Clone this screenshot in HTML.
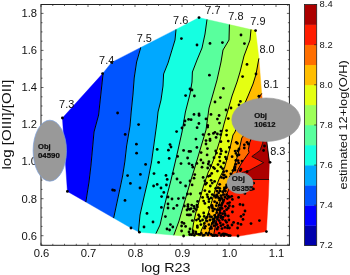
<!DOCTYPE html>
<html><head><meta charset="utf-8"><title>chart</title>
<style>html,body{margin:0;padding:0;background:#fff;}body{width:350px;height:275px;overflow:hidden;position:relative;font-family:"Liberation Sans",sans-serif;}svg{filter:blur(0.35px)}svg text{font-family:"Liberation Sans",sans-serif;fill:#111;}</style>
</head><body>
<svg width="350" height="275" viewBox="0 0 350 275" style="position:absolute;left:0;top:0">
<rect width="350" height="275" fill="#fff"/>
<path d="M86.00 201.00 L89.00 182.00 L91.00 165.00 L94.00 132.00 L98.60 115.00 L103.00 74.40 L103.16 72.90 L102.60 73.60 L62.40 118.00 L67.40 191.40 L85.84 202.01 L86.00 201.00Z" fill="#0000ff" stroke="#0000ff" stroke-width="0.4" stroke-linejoin="round"/>
<path d="M103.00 74.40 L98.60 115.00 L94.00 132.00 L91.00 165.00 L89.00 182.00 L86.00 201.00 L85.84 202.01 L113.65 218.02 L114.30 215.00 L120.50 186.00 L122.60 176.00 L124.80 162.00 L126.60 146.00 L130.00 126.00 L131.20 112.00 L133.00 94.00 L134.20 78.00 L136.60 62.00 L140.60 48.00 L140.76 47.46 L111.60 62.40 L103.16 72.90 L103.00 74.40Z" fill="#0054ff" stroke="#0054ff" stroke-width="0.4" stroke-linejoin="round"/>
<path d="M140.60 48.00 L136.60 62.00 L134.20 78.00 L133.00 94.00 L131.20 112.00 L130.00 126.00 L126.60 146.00 L124.80 162.00 L122.60 176.00 L120.50 186.00 L114.30 215.00 L113.65 218.02 L131.00 228.00 L138.43 231.72 L138.50 231.00 L140.00 215.00 L144.00 197.00 L148.00 180.00 L151.50 162.00 L154.00 144.00 L157.00 122.00 L158.00 112.00 L161.00 100.00 L163.00 86.00 L163.60 74.00 L168.00 63.00 L175.00 40.00 L176.00 29.60 L176.02 29.38 L140.76 47.46 L140.60 48.00Z" fill="#00a8ff" stroke="#00a8ff" stroke-width="0.4" stroke-linejoin="round"/>
<path d="M156.00 233.40 L160.00 225.00 L163.00 212.00 L166.60 197.00 L171.00 180.00 L175.00 163.00 L178.00 150.00 L182.00 132.00 L185.40 112.00 L190.00 94.00 L192.00 82.00 L192.40 72.00 L197.00 60.00 L202.00 48.00 L205.00 34.00 L207.00 19.44 L199.00 17.60 L176.02 29.38 L176.00 29.60 L175.00 40.00 L168.00 63.00 L163.60 74.00 L163.00 86.00 L161.00 100.00 L158.00 112.00 L157.00 122.00 L154.00 144.00 L151.50 162.00 L148.00 180.00 L144.00 197.00 L140.00 215.00 L138.50 231.00 L138.43 231.72 L139.40 232.20 L155.90 233.62 L156.00 233.40Z" fill="#15ffe1" stroke="#15ffe1" stroke-width="0.4" stroke-linejoin="round"/>
<path d="M205.00 34.00 L202.00 48.00 L197.00 60.00 L192.40 72.00 L192.00 82.00 L190.00 94.00 L185.40 112.00 L182.00 132.00 L178.00 150.00 L175.00 163.00 L171.00 180.00 L166.60 197.00 L163.00 212.00 L160.00 225.00 L156.00 233.40 L155.90 233.62 L173.80 235.16 L174.00 234.60 L179.00 221.00 L183.00 207.00 L186.00 197.00 L190.00 183.00 L195.00 167.00 L200.00 150.00 L206.00 130.00 L209.00 108.00 L213.00 94.00 L217.00 80.00 L221.00 62.00 L223.00 50.00 L229.00 40.00 L229.40 25.00 L229.41 24.58 L207.00 19.44 L205.00 34.00Z" fill="#59ff9d" stroke="#59ff9d" stroke-width="0.4" stroke-linejoin="round"/>
<path d="M229.40 25.00 L229.00 40.00 L223.00 50.00 L221.00 62.00 L217.00 80.00 L213.00 94.00 L209.00 108.00 L206.00 130.00 L200.00 150.00 L195.00 167.00 L190.00 183.00 L186.00 197.00 L183.00 207.00 L179.00 221.00 L174.00 234.60 L173.80 235.16 L183.60 236.00 L192.00 236.05 L192.00 236.00 L192.50 230.00 L193.60 222.90 L196.00 212.00 L199.80 199.00 L203.50 186.00 L208.30 172.00 L210.00 169.00 L215.00 156.00 L220.00 140.00 L224.00 124.00 L228.00 110.00 L232.00 96.00 L237.00 82.00 L240.00 72.00 L242.00 64.00 L244.00 56.00 L250.00 40.00 L251.00 29.60 L251.01 29.54 L229.41 24.58 L229.40 25.00Z" fill="#9dff59" stroke="#9dff59" stroke-width="0.4" stroke-linejoin="round"/>
<path d="M200.00 236.00 L201.40 230.00 L203.50 226.00 L208.00 214.00 L212.30 200.00 L216.00 187.00 L219.50 178.00 L224.30 168.60 L230.00 148.00 L233.00 135.00 L235.00 132.00 L245.00 103.00 L248.00 96.00 L253.00 84.00 L256.00 74.40 L258.90 58.40 L255.60 30.60 L251.01 29.54 L251.00 29.60 L250.00 40.00 L244.00 56.00 L242.00 64.00 L240.00 72.00 L237.00 82.00 L232.00 96.00 L228.00 110.00 L224.00 124.00 L220.00 140.00 L215.00 156.00 L210.00 169.00 L208.30 172.00 L203.50 186.00 L199.80 199.00 L196.00 212.00 L193.60 222.90 L192.50 230.00 L192.00 236.00 L192.00 236.05 L199.98 236.09 L200.00 236.00Z" fill="#e4ff12" stroke="#e4ff12" stroke-width="0.4" stroke-linejoin="round"/>
<path d="M256.00 74.40 L253.00 84.00 L248.00 96.00 L245.00 103.00 L235.00 132.00 L233.00 135.00 L230.00 148.00 L224.30 168.60 L219.50 178.00 L216.00 187.00 L212.30 200.00 L208.00 214.00 L203.50 226.00 L201.40 230.00 L200.00 236.00 L199.98 236.09 L207.97 236.13 L208.00 236.00 L209.80 229.00 L212.90 220.60 L216.30 212.60 L220.70 199.50 L226.00 186.00 L231.50 175.50 L234.50 165.00 L238.20 154.00 L241.80 138.00 L244.00 135.00 L252.00 115.00 L259.30 97.00 L261.69 93.46 L258.90 58.40 L256.00 74.40Z" fill="#ffbd00" stroke="#ffbd00" stroke-width="0.4" stroke-linejoin="round"/>
<path d="M259.30 97.00 L252.00 115.00 L244.00 135.00 L241.80 138.00 L238.20 154.00 L234.50 165.00 L231.50 175.50 L226.00 186.00 L220.70 199.50 L216.30 212.60 L212.90 220.60 L209.80 229.00 L208.00 236.00 L207.97 236.13 L213.47 236.16 L213.50 236.00 L214.80 229.00 L217.60 217.00 L220.90 209.00 L224.30 200.00 L228.50 190.00 L236.00 175.00 L238.20 169.20 L241.80 162.60 L249.00 152.50 L248.40 149.50 L249.80 142.30 L251.50 138.00 L258.00 128.00 L263.93 114.65 L261.80 94.80 L261.69 93.46 L259.30 97.00Z" fill="#ff6f00" stroke="#ff6f00" stroke-width="0.4" stroke-linejoin="round"/>
<path d="M251.50 138.00 L249.80 142.30 L248.40 149.50 L249.00 152.50 L241.80 162.60 L238.20 169.20 L236.00 175.00 L228.50 190.00 L224.30 200.00 L220.90 209.00 L217.60 217.00 L214.80 229.00 L213.50 236.00 L213.47 236.16 L238.00 236.30 L266.40 231.60 L268.50 195.00 L269.02 179.50 L243.00 179.50 L241.60 172.70 L249.10 170.50 L263.60 162.60 L251.80 156.50 L260.00 150.50 L262.70 143.20 L261.80 139.00 L266.55 139.00 L263.93 114.65 L258.00 128.00 L251.50 138.00Z" fill="#ff1d00" stroke="#ff1d00" stroke-width="0.4" stroke-linejoin="round"/>
<path d="M262.70 143.20 L260.00 150.50 L251.80 156.50 L263.60 162.60 L249.10 170.50 L241.60 172.70 L243.00 179.50 L269.02 179.50 L269.60 162.30 L266.90 142.30 L266.55 139.00 L261.80 139.00 L262.70 143.20Z" fill="#ac0000"/>
<path d="M103.16 72.90 L103.00 74.40 L98.60 115.00 L94.00 132.00 L91.00 165.00 L89.00 182.00 L86.00 201.00 L85.84 202.01" fill="none" stroke="#000" stroke-width="1" stroke-linejoin="round"/>
<path d="M140.76 47.46 L140.60 48.00 L136.60 62.00 L134.20 78.00 L133.00 94.00 L131.20 112.00 L130.00 126.00 L126.60 146.00 L124.80 162.00 L122.60 176.00 L120.50 186.00 L114.30 215.00 L113.65 218.02" fill="none" stroke="#000" stroke-width="1" stroke-linejoin="round"/>
<path d="M176.02 29.38 L176.00 29.60 L175.00 40.00 L168.00 63.00 L163.60 74.00 L163.00 86.00 L161.00 100.00 L158.00 112.00 L157.00 122.00 L154.00 144.00 L151.50 162.00 L148.00 180.00 L144.00 197.00 L140.00 215.00 L138.50 231.00 L138.43 231.72" fill="none" stroke="#000" stroke-width="1" stroke-linejoin="round"/>
<path d="M207.00 19.44 L205.00 34.00 L202.00 48.00 L197.00 60.00 L192.40 72.00 L192.00 82.00 L190.00 94.00 L185.40 112.00 L182.00 132.00 L178.00 150.00 L175.00 163.00 L171.00 180.00 L166.60 197.00 L163.00 212.00 L160.00 225.00 L156.00 233.40 L155.90 233.62" fill="none" stroke="#000" stroke-width="1" stroke-linejoin="round"/>
<path d="M229.41 24.58 L229.40 25.00 L229.00 40.00 L223.00 50.00 L221.00 62.00 L217.00 80.00 L213.00 94.00 L209.00 108.00 L206.00 130.00 L200.00 150.00 L195.00 167.00 L190.00 183.00 L186.00 197.00 L183.00 207.00 L179.00 221.00 L174.00 234.60 L173.80 235.16" fill="none" stroke="#000" stroke-width="1" stroke-linejoin="round"/>
<path d="M251.01 29.54 L251.00 29.60 L250.00 40.00 L244.00 56.00 L242.00 64.00 L240.00 72.00 L237.00 82.00 L232.00 96.00 L228.00 110.00 L224.00 124.00 L220.00 140.00 L215.00 156.00 L210.00 169.00 L208.30 172.00 L203.50 186.00 L199.80 199.00 L196.00 212.00 L193.60 222.90 L192.50 230.00 L192.00 236.00 L192.00 236.05" fill="none" stroke="#000" stroke-width="1" stroke-linejoin="round"/>
<path d="M258.90 58.40 L256.00 74.40 L253.00 84.00 L248.00 96.00 L245.00 103.00 L235.00 132.00 L233.00 135.00 L230.00 148.00 L224.30 168.60 L219.50 178.00 L216.00 187.00 L212.30 200.00 L208.00 214.00 L203.50 226.00 L201.40 230.00 L200.00 236.00 L199.98 236.09" fill="none" stroke="#000" stroke-width="1" stroke-linejoin="round"/>
<path d="M261.69 93.46 L259.30 97.00 L252.00 115.00 L244.00 135.00 L241.80 138.00 L238.20 154.00 L234.50 165.00 L231.50 175.50 L226.00 186.00 L220.70 199.50 L216.30 212.60 L212.90 220.60 L209.80 229.00 L208.00 236.00 L207.97 236.13" fill="none" stroke="#000" stroke-width="1" stroke-linejoin="round"/>
<path d="M263.93 114.65 L258.00 128.00 L251.50 138.00 L249.80 142.30 L248.40 149.50 L249.00 152.50 L241.80 162.60 L238.20 169.20 L236.00 175.00 L228.50 190.00 L224.30 200.00 L220.90 209.00 L217.60 217.00 L214.80 229.00 L213.50 236.00 L213.47 236.16" fill="none" stroke="#000" stroke-width="1" stroke-linejoin="round"/>
<path d="M266.5 139L266.9 142.3L269.4 162.3" fill="none" stroke="#000" stroke-width="0.9"/>
<path d="M269.02 179.50 L243.00 179.50" fill="none" stroke="#000" stroke-width="0.8" stroke-linejoin="round"/>
<path d="M241.60 172.70 L249.10 170.50 L263.60 162.60 L251.80 156.50 L260.00 150.50 L262.70 143.20 L263.20 139.00" fill="none" stroke="#000" stroke-width="0.8" stroke-linejoin="round"/>
<circle cx="102.6" cy="73.6" r="1.4"/>
<circle cx="111.6" cy="62.4" r="1.4"/>
<circle cx="117.6" cy="113.0" r="1.4"/>
<circle cx="62.4" cy="118.0" r="1.4"/>
<circle cx="67.4" cy="191.4" r="1.4"/>
<circle cx="112.6" cy="190.0" r="1.4"/>
<circle cx="114.4" cy="190.4" r="1.4"/>
<circle cx="181.4" cy="38.6" r="1.4"/>
<circle cx="185.6" cy="95.6" r="1.4"/>
<circle cx="190.0" cy="89.0" r="1.4"/>
<circle cx="138.6" cy="124.6" r="1.4"/>
<circle cx="125.2" cy="134.4" r="1.4"/>
<circle cx="136.4" cy="144.2" r="1.4"/>
<circle cx="136.6" cy="153.2" r="1.4"/>
<circle cx="145.6" cy="164.4" r="1.4"/>
<circle cx="157.2" cy="149.4" r="1.4"/>
<circle cx="158.6" cy="162.4" r="1.4"/>
<circle cx="168.4" cy="150.2" r="1.4"/>
<circle cx="170.0" cy="144.6" r="1.4"/>
<circle cx="171.0" cy="147.0" r="1.4"/>
<circle cx="169.2" cy="158.4" r="1.4"/>
<circle cx="176.6" cy="131.6" r="1.4"/>
<circle cx="182.0" cy="128.0" r="1.4"/>
<circle cx="184.4" cy="125.0" r="1.4"/>
<circle cx="185.0" cy="121.0" r="1.4"/>
<circle cx="188.6" cy="119.4" r="1.4"/>
<circle cx="177.6" cy="156.4" r="1.4"/>
<circle cx="183.6" cy="150.4" r="1.4"/>
<circle cx="189.0" cy="151.4" r="1.4"/>
<circle cx="187.6" cy="158.0" r="1.4"/>
<circle cx="181.0" cy="163.6" r="1.4"/>
<circle cx="127.6" cy="175.6" r="1.4"/>
<circle cx="140.4" cy="174.4" r="1.4"/>
<circle cx="130.4" cy="183.4" r="1.4"/>
<circle cx="140.0" cy="188.0" r="1.4"/>
<circle cx="154.0" cy="173.6" r="1.4"/>
<circle cx="153.6" cy="186.0" r="1.4"/>
<circle cx="157.2" cy="184.4" r="1.4"/>
<circle cx="161.0" cy="188.0" r="1.4"/>
<circle cx="163.8" cy="192.4" r="1.4"/>
<circle cx="166.0" cy="175.4" r="1.4"/>
<circle cx="167.2" cy="179.4" r="1.4"/>
<circle cx="166.4" cy="185.0" r="1.4"/>
<circle cx="173.2" cy="173.6" r="1.4"/>
<circle cx="177.0" cy="179.0" r="1.4"/>
<circle cx="180.4" cy="182.6" r="1.4"/>
<circle cx="189.0" cy="163.6" r="1.4"/>
<circle cx="185.6" cy="186.0" r="1.4"/>
<circle cx="190.0" cy="181.0" r="1.4"/>
<circle cx="187.4" cy="194.0" r="1.4"/>
<circle cx="125.0" cy="200.4" r="1.4"/>
<circle cx="161.6" cy="196.6" r="1.4"/>
<circle cx="161.4" cy="207.4" r="1.4"/>
<circle cx="147.0" cy="213.4" r="1.4"/>
<circle cx="153.0" cy="222.0" r="1.4"/>
<circle cx="144.0" cy="227.0" r="1.4"/>
<circle cx="131.0" cy="228.0" r="1.4"/>
<circle cx="139.4" cy="232.2" r="1.4"/>
<circle cx="168.0" cy="197.0" r="1.4"/>
<circle cx="172.0" cy="199.0" r="1.4"/>
<circle cx="168.0" cy="204.0" r="1.4"/>
<circle cx="168.0" cy="208.0" r="1.4"/>
<circle cx="173.6" cy="208.4" r="1.4"/>
<circle cx="177.0" cy="205.4" r="1.4"/>
<circle cx="178.4" cy="198.6" r="1.4"/>
<circle cx="183.4" cy="198.0" r="1.4"/>
<circle cx="165.4" cy="216.6" r="1.4"/>
<circle cx="170.4" cy="224.6" r="1.4"/>
<circle cx="172.8" cy="227.0" r="1.4"/>
<circle cx="167.0" cy="229.0" r="1.4"/>
<circle cx="169.6" cy="230.0" r="1.4"/>
<circle cx="184.4" cy="206.0" r="1.4"/>
<circle cx="188.0" cy="204.6" r="1.4"/>
<circle cx="187.0" cy="210.0" r="1.4"/>
<circle cx="189.6" cy="209.4" r="1.4"/>
<circle cx="189.0" cy="215.0" r="1.4"/>
<circle cx="182.0" cy="222.4" r="1.4"/>
<circle cx="184.0" cy="223.4" r="1.4"/>
<circle cx="181.6" cy="226.0" r="1.4"/>
<circle cx="185.6" cy="226.4" r="1.4"/>
<circle cx="181.6" cy="231.0" r="1.4"/>
<circle cx="183.6" cy="236.0" r="1.4"/>
<circle cx="190.0" cy="229.0" r="1.4"/>
<circle cx="189.0" cy="232.0" r="1.4"/>
<circle cx="199.0" cy="17.6" r="1.4"/>
<circle cx="197.0" cy="45.0" r="1.4"/>
<circle cx="210.0" cy="43.4" r="1.4"/>
<circle cx="222.4" cy="42.6" r="1.4"/>
<circle cx="241.0" cy="35.0" r="1.4"/>
<circle cx="244.4" cy="43.6" r="1.4"/>
<circle cx="255.6" cy="30.6" r="1.4"/>
<circle cx="247.0" cy="64.4" r="1.4"/>
<circle cx="242.6" cy="76.6" r="1.4"/>
<circle cx="256.0" cy="74.0" r="1.4"/>
<circle cx="209.4" cy="75.2" r="1.4"/>
<circle cx="223.4" cy="88.4" r="1.4"/>
<circle cx="192.0" cy="90.0" r="1.4"/>
<circle cx="194.4" cy="96.0" r="1.4"/>
<circle cx="220.4" cy="97.6" r="1.4"/>
<circle cx="215.0" cy="102.0" r="1.4"/>
<circle cx="240.4" cy="101.4" r="1.4"/>
<circle cx="231.0" cy="108.0" r="1.4"/>
<circle cx="226.0" cy="110.0" r="1.4"/>
<circle cx="239.0" cy="105.0" r="1.4"/>
<circle cx="199.0" cy="114.0" r="1.4"/>
<circle cx="194.0" cy="114.4" r="1.4"/>
<circle cx="211.0" cy="114.4" r="1.4"/>
<circle cx="199.1" cy="115.4" r="1.4"/>
<circle cx="191.1" cy="119.7" r="1.4"/>
<circle cx="198.9" cy="123.5" r="1.4"/>
<circle cx="197.1" cy="127.7" r="1.4"/>
<circle cx="195.9" cy="139.1" r="1.4"/>
<circle cx="206.0" cy="118.9" r="1.4"/>
<circle cx="219.1" cy="115.5" r="1.4"/>
<circle cx="217.4" cy="119.1" r="1.4"/>
<circle cx="219.5" cy="123.1" r="1.4"/>
<circle cx="207.7" cy="125.4" r="1.4"/>
<circle cx="207.7" cy="127.1" r="1.4"/>
<circle cx="203.1" cy="134.6" r="1.4"/>
<circle cx="208.9" cy="134.3" r="1.4"/>
<circle cx="213.4" cy="133.4" r="1.4"/>
<circle cx="214.9" cy="132.3" r="1.4"/>
<circle cx="217.4" cy="134.0" r="1.4"/>
<circle cx="216.1" cy="137.4" r="1.4"/>
<circle cx="210.0" cy="139.1" r="1.4"/>
<circle cx="228.3" cy="118.6" r="1.4"/>
<circle cx="226.6" cy="130.6" r="1.4"/>
<circle cx="226.6" cy="135.1" r="1.4"/>
<circle cx="220.9" cy="131.1" r="1.4"/>
<circle cx="220.6" cy="134.6" r="1.4"/>
<circle cx="196.9" cy="147.4" r="1.4"/>
<circle cx="190.6" cy="151.4" r="1.4"/>
<circle cx="192.1" cy="165.1" r="1.4"/>
<circle cx="192.9" cy="167.2" r="1.4"/>
<circle cx="206.0" cy="140.6" r="1.4"/>
<circle cx="206.0" cy="144.0" r="1.4"/>
<circle cx="210.0" cy="140.6" r="1.4"/>
<circle cx="207.4" cy="148.6" r="1.4"/>
<circle cx="201.1" cy="152.6" r="1.4"/>
<circle cx="207.1" cy="154.9" r="1.4"/>
<circle cx="200.9" cy="160.0" r="1.4"/>
<circle cx="203.1" cy="162.9" r="1.4"/>
<circle cx="196.9" cy="163.4" r="1.4"/>
<circle cx="202.0" cy="167.2" r="1.4"/>
<circle cx="207.7" cy="168.0" r="1.4"/>
<circle cx="208.9" cy="161.7" r="1.4"/>
<circle cx="208.3" cy="164.0" r="1.4"/>
<circle cx="220.9" cy="141.7" r="1.4"/>
<circle cx="228.3" cy="141.1" r="1.4"/>
<circle cx="229.4" cy="147.4" r="1.4"/>
<circle cx="220.6" cy="149.1" r="1.4"/>
<circle cx="221.4" cy="150.9" r="1.4"/>
<circle cx="226.0" cy="152.0" r="1.4"/>
<circle cx="220.6" cy="153.9" r="1.4"/>
<circle cx="215.7" cy="150.9" r="1.4"/>
<circle cx="216.5" cy="153.1" r="1.4"/>
<circle cx="219.5" cy="157.1" r="1.4"/>
<circle cx="214.0" cy="157.7" r="1.4"/>
<circle cx="225.4" cy="157.1" r="1.4"/>
<circle cx="226.3" cy="158.9" r="1.4"/>
<circle cx="219.9" cy="161.1" r="1.4"/>
<circle cx="223.7" cy="162.9" r="1.4"/>
<circle cx="218.0" cy="164.6" r="1.4"/>
<circle cx="220.9" cy="166.9" r="1.4"/>
<circle cx="222.6" cy="168.6" r="1.4"/>
<circle cx="213.4" cy="167.4" r="1.4"/>
<circle cx="214.6" cy="168.6" r="1.4"/>
<circle cx="210.6" cy="165.7" r="1.4"/>
<circle cx="263.6" cy="150.5" r="1.4"/>
<circle cx="264.5" cy="146.0" r="1.4"/>
<circle cx="270.0" cy="162.3" r="1.4"/>
<circle cx="253.6" cy="183.2" r="1.4"/>
<circle cx="235.1" cy="151.1" r="1.4"/>
<circle cx="236.3" cy="142.3" r="1.4"/>
<circle cx="237.4" cy="143.4" r="1.4"/>
<circle cx="244.3" cy="144.8" r="1.4"/>
<circle cx="247.1" cy="142.3" r="1.4"/>
<circle cx="244.3" cy="148.0" r="1.4"/>
<circle cx="248.3" cy="144.0" r="1.4"/>
<circle cx="238.0" cy="160.6" r="1.4"/>
<circle cx="238.6" cy="162.9" r="1.4"/>
<circle cx="242.0" cy="161.1" r="1.4"/>
<circle cx="235.1" cy="166.9" r="1.4"/>
<circle cx="234.6" cy="168.6" r="1.4"/>
<circle cx="240.9" cy="169.1" r="1.4"/>
<circle cx="194.8" cy="174.6" r="1.4"/>
<circle cx="194.0" cy="178.2" r="1.4"/>
<circle cx="192.1" cy="184.9" r="1.4"/>
<circle cx="190.6" cy="194.0" r="1.4"/>
<circle cx="203.1" cy="177.4" r="1.4"/>
<circle cx="204.9" cy="180.9" r="1.4"/>
<circle cx="206.6" cy="183.1" r="1.4"/>
<circle cx="205.4" cy="184.3" r="1.4"/>
<circle cx="200.3" cy="193.4" r="1.4"/>
<circle cx="202.6" cy="197.4" r="1.4"/>
<circle cx="204.9" cy="190.6" r="1.4"/>
<circle cx="208.3" cy="176.3" r="1.4"/>
<circle cx="210.0" cy="175.7" r="1.4"/>
<circle cx="211.7" cy="173.4" r="1.4"/>
<circle cx="211.1" cy="180.3" r="1.4"/>
<circle cx="214.6" cy="181.4" r="1.4"/>
<circle cx="212.3" cy="183.1" r="1.4"/>
<circle cx="210.3" cy="186.0" r="1.4"/>
<circle cx="209.4" cy="191.7" r="1.4"/>
<circle cx="207.1" cy="194.6" r="1.4"/>
<circle cx="207.7" cy="196.9" r="1.4"/>
<circle cx="212.3" cy="194.6" r="1.4"/>
<circle cx="211.1" cy="198.0" r="1.4"/>
<circle cx="208.9" cy="199.1" r="1.4"/>
<circle cx="217.4" cy="171.1" r="1.4"/>
<circle cx="223.7" cy="171.7" r="1.4"/>
<circle cx="226.6" cy="171.1" r="1.4"/>
<circle cx="223.1" cy="174.6" r="1.4"/>
<circle cx="224.3" cy="175.1" r="1.4"/>
<circle cx="221.4" cy="177.4" r="1.4"/>
<circle cx="223.7" cy="178.0" r="1.4"/>
<circle cx="226.0" cy="176.9" r="1.4"/>
<circle cx="219.7" cy="184.3" r="1.4"/>
<circle cx="215.7" cy="188.3" r="1.4"/>
<circle cx="218.0" cy="187.7" r="1.4"/>
<circle cx="219.7" cy="188.3" r="1.4"/>
<circle cx="216.9" cy="191.1" r="1.4"/>
<circle cx="218.6" cy="192.9" r="1.4"/>
<circle cx="214.6" cy="195.7" r="1.4"/>
<circle cx="215.7" cy="197.4" r="1.4"/>
<circle cx="217.4" cy="196.3" r="1.4"/>
<circle cx="220.9" cy="195.7" r="1.4"/>
<circle cx="222.6" cy="191.7" r="1.4"/>
<circle cx="224.3" cy="190.0" r="1.4"/>
<circle cx="226.0" cy="187.7" r="1.4"/>
<circle cx="226.6" cy="184.9" r="1.4"/>
<circle cx="225.4" cy="191.1" r="1.4"/>
<circle cx="223.7" cy="194.6" r="1.4"/>
<circle cx="226.6" cy="194.6" r="1.4"/>
<circle cx="224.9" cy="196.9" r="1.4"/>
<circle cx="228.3" cy="196.3" r="1.4"/>
<circle cx="222.0" cy="198.6" r="1.4"/>
<circle cx="218.6" cy="198.0" r="1.4"/>
<circle cx="244.9" cy="193.4" r="1.4"/>
<circle cx="238.6" cy="197.4" r="1.4"/>
<circle cx="231.7" cy="196.3" r="1.4"/>
<circle cx="253.4" cy="188.9" r="1.4"/>
<circle cx="240.3" cy="170.6" r="1.4"/>
<circle cx="247.1" cy="171.7" r="1.4"/>
<circle cx="232.9" cy="170.6" r="1.4"/>
<circle cx="203.7" cy="201.1" r="1.4"/>
<circle cx="208.9" cy="201.7" r="1.4"/>
<circle cx="204.9" cy="203.4" r="1.4"/>
<circle cx="214.6" cy="201.7" r="1.4"/>
<circle cx="216.9" cy="202.9" r="1.4"/>
<circle cx="223.1" cy="201.7" r="1.4"/>
<circle cx="222.0" cy="203.4" r="1.4"/>
<circle cx="227.7" cy="203.4" r="1.4"/>
<circle cx="191.7" cy="205.1" r="1.4"/>
<circle cx="194.0" cy="206.3" r="1.4"/>
<circle cx="196.9" cy="205.1" r="1.4"/>
<circle cx="191.1" cy="208.6" r="1.4"/>
<circle cx="208.9" cy="207.4" r="1.4"/>
<circle cx="212.3" cy="206.9" r="1.4"/>
<circle cx="216.3" cy="205.7" r="1.4"/>
<circle cx="219.1" cy="205.1" r="1.4"/>
<circle cx="225.4" cy="206.3" r="1.4"/>
<circle cx="229.4" cy="205.7" r="1.4"/>
<circle cx="228.3" cy="208.0" r="1.4"/>
<circle cx="193.4" cy="211.4" r="1.4"/>
<circle cx="196.3" cy="209.7" r="1.4"/>
<circle cx="214.6" cy="209.1" r="1.4"/>
<circle cx="212.9" cy="210.9" r="1.4"/>
<circle cx="218.6" cy="209.7" r="1.4"/>
<circle cx="216.9" cy="212.6" r="1.4"/>
<circle cx="226.6" cy="209.7" r="1.4"/>
<circle cx="224.3" cy="211.4" r="1.4"/>
<circle cx="222.6" cy="213.7" r="1.4"/>
<circle cx="220.3" cy="213.1" r="1.4"/>
<circle cx="190.6" cy="214.9" r="1.4"/>
<circle cx="198.6" cy="214.9" r="1.4"/>
<circle cx="199.7" cy="216.6" r="1.4"/>
<circle cx="208.9" cy="214.3" r="1.4"/>
<circle cx="210.0" cy="216.6" r="1.4"/>
<circle cx="207.1" cy="217.1" r="1.4"/>
<circle cx="214.6" cy="215.4" r="1.4"/>
<circle cx="215.7" cy="217.1" r="1.4"/>
<circle cx="218.6" cy="214.9" r="1.4"/>
<circle cx="220.9" cy="216.0" r="1.4"/>
<circle cx="223.1" cy="217.1" r="1.4"/>
<circle cx="225.4" cy="215.4" r="1.4"/>
<circle cx="228.3" cy="216.0" r="1.4"/>
<circle cx="192.3" cy="220.6" r="1.4"/>
<circle cx="198.6" cy="218.9" r="1.4"/>
<circle cx="200.3" cy="221.1" r="1.4"/>
<circle cx="202.6" cy="220.0" r="1.4"/>
<circle cx="206.0" cy="218.3" r="1.4"/>
<circle cx="207.1" cy="221.1" r="1.4"/>
<circle cx="210.0" cy="220.0" r="1.4"/>
<circle cx="212.9" cy="219.4" r="1.4"/>
<circle cx="214.6" cy="221.1" r="1.4"/>
<circle cx="217.4" cy="218.9" r="1.4"/>
<circle cx="219.1" cy="220.6" r="1.4"/>
<circle cx="220.3" cy="222.9" r="1.4"/>
<circle cx="222.6" cy="219.4" r="1.4"/>
<circle cx="225.4" cy="220.6" r="1.4"/>
<circle cx="226.6" cy="222.3" r="1.4"/>
<circle cx="228.9" cy="220.0" r="1.4"/>
<circle cx="197.4" cy="227.4" r="1.4"/>
<circle cx="200.9" cy="224.6" r="1.4"/>
<circle cx="204.3" cy="223.4" r="1.4"/>
<circle cx="205.4" cy="226.3" r="1.4"/>
<circle cx="208.9" cy="224.6" r="1.4"/>
<circle cx="211.1" cy="226.9" r="1.4"/>
<circle cx="212.3" cy="223.4" r="1.4"/>
<circle cx="214.0" cy="225.7" r="1.4"/>
<circle cx="216.9" cy="224.6" r="1.4"/>
<circle cx="218.0" cy="227.4" r="1.4"/>
<circle cx="220.9" cy="225.7" r="1.4"/>
<circle cx="223.1" cy="224.6" r="1.4"/>
<circle cx="224.9" cy="227.4" r="1.4"/>
<circle cx="227.7" cy="225.7" r="1.4"/>
<circle cx="222.0" cy="228.6" r="1.4"/>
<circle cx="229.4" cy="228.0" r="1.4"/>
<circle cx="210.0" cy="228.6" r="1.4"/>
<circle cx="232.4" cy="199.4" r="1.4"/>
<circle cx="240.0" cy="204.4" r="1.4"/>
<circle cx="243.0" cy="205.0" r="1.4"/>
<circle cx="233.0" cy="206.4" r="1.4"/>
<circle cx="232.4" cy="212.0" r="1.4"/>
<circle cx="245.0" cy="211.0" r="1.4"/>
<circle cx="243.6" cy="214.6" r="1.4"/>
<circle cx="241.0" cy="216.4" r="1.4"/>
<circle cx="243.0" cy="219.4" r="1.4"/>
<circle cx="233.6" cy="222.4" r="1.4"/>
<circle cx="238.0" cy="223.4" r="1.4"/>
<circle cx="241.0" cy="224.4" r="1.4"/>
<circle cx="237.6" cy="228.0" r="1.4"/>
<circle cx="251.0" cy="223.6" r="1.4"/>
<circle cx="259.4" cy="220.6" r="1.4"/>
<circle cx="232.0" cy="225.0" r="1.4"/>
<circle cx="266.4" cy="231.6" r="1.4"/>
<circle cx="238.0" cy="236.0" r="1.4"/>
<circle cx="258.9" cy="96.2" r="1.4"/>
<circle cx="189.7" cy="234.5" r="1.4"/>
<circle cx="191.5" cy="234.7" r="1.4"/>
<circle cx="193.3" cy="233.2" r="1.4"/>
<circle cx="194.3" cy="235.3" r="1.4"/>
<circle cx="196.2" cy="233.7" r="1.4"/>
<circle cx="198.5" cy="234.3" r="1.4"/>
<circle cx="199.9" cy="234.3" r="1.4"/>
<circle cx="201.3" cy="233.4" r="1.4"/>
<circle cx="202.9" cy="235.4" r="1.4"/>
<circle cx="204.4" cy="235.1" r="1.4"/>
<circle cx="206.2" cy="233.2" r="1.4"/>
<circle cx="207.9" cy="234.7" r="1.4"/>
<circle cx="209.0" cy="233.1" r="1.4"/>
<circle cx="211.2" cy="234.3" r="1.4"/>
<circle cx="212.6" cy="235.5" r="1.4"/>
<circle cx="214.2" cy="235.6" r="1.4"/>
<circle cx="215.5" cy="235.2" r="1.4"/>
<circle cx="217.1" cy="235.6" r="1.4"/>
<circle cx="219.2" cy="233.3" r="1.4"/>
<circle cx="222.5" cy="234.2" r="1.4"/>
<circle cx="223.7" cy="233.8" r="1.4"/>
<circle cx="225.2" cy="234.1" r="1.4"/>
<circle cx="226.7" cy="234.6" r="1.4"/>
<circle cx="228.5" cy="235.5" r="1.4"/>
<circle cx="230.2" cy="235.6" r="1.4"/>
<circle cx="204.2" cy="216.4" r="1.4"/>
<circle cx="211.6" cy="216.9" r="1.4"/>
<circle cx="214.2" cy="218.8" r="1.4"/>
<circle cx="215.8" cy="223.3" r="1.4"/>
<circle cx="216.9" cy="210.0" r="1.4"/>
<circle cx="227.3" cy="198.6" r="1.4"/>
<circle cx="216.8" cy="195.0" r="1.4"/>
<circle cx="221.1" cy="235.4" r="1.4"/>
<circle cx="229.6" cy="202.6" r="1.4"/>
<circle cx="218.1" cy="216.9" r="1.4"/>
<circle cx="224.0" cy="235.5" r="1.4"/>
<circle cx="219.9" cy="210.5" r="1.4"/>
<circle cx="229.4" cy="197.2" r="1.4"/>
<circle cx="204.6" cy="228.2" r="1.4"/>
<circle cx="224.8" cy="213.6" r="1.4"/>
<circle cx="221.1" cy="205.4" r="1.4"/>
<circle cx="212.6" cy="208.4" r="1.4"/>
<circle cx="227.5" cy="227.9" r="1.4"/>
<circle cx="223.2" cy="200.3" r="1.4"/>
<circle cx="217.1" cy="229.2" r="1.4"/>
<circle cx="219.6" cy="200.2" r="1.4"/>
<circle cx="222.1" cy="208.4" r="1.4"/>
<circle cx="212.0" cy="205.5" r="1.4"/>
<circle cx="220.1" cy="207.8" r="1.4"/>
<circle cx="211.5" cy="228.4" r="1.4"/>
<circle cx="220.0" cy="198.5" r="1.4"/>
<circle cx="213.2" cy="222.2" r="1.4"/>
<circle cx="203.7" cy="213.0" r="1.4"/>
<circle cx="220.8" cy="217.7" r="1.4"/>
<circle cx="196.4" cy="220.1" r="1.4"/>
<circle cx="187.8" cy="206.4" r="1.4"/>
<circle cx="195.8" cy="231.8" r="1.4"/>
<circle cx="188.3" cy="208.7" r="1.4"/>
<circle cx="197.3" cy="225.9" r="1.4"/>
<circle cx="197.4" cy="206.9" r="1.4"/>
<circle cx="193.2" cy="230.9" r="1.4"/>
<circle cx="187.2" cy="214.8" r="1.4"/>
<circle cx="197.6" cy="201.4" r="1.4"/>
<circle cx="194.5" cy="208.3" r="1.4"/>
<circle cx="239.0" cy="154.8" r="1.4"/>
<circle cx="232.1" cy="156.7" r="1.4"/>
<circle cx="237.7" cy="150.8" r="1.4"/>
<circle cx="236.0" cy="153.4" r="1.4"/>
<circle cx="235.0" cy="170.0" r="1.4"/>
<circle cx="224.4" cy="187.9" r="1.4"/>
<circle cx="237.3" cy="155.5" r="1.4"/>
<circle cx="235.8" cy="164.3" r="1.4"/>
<circle cx="235.8" cy="160.4" r="1.4"/>
<circle cx="227.2" cy="186.5" r="1.4"/>
<circle cx="219.9" cy="191.0" r="1.4"/>
<circle cx="239.0" cy="149.0" r="1.4"/>
<circle cx="230.4" cy="177.0" r="1.4"/>
<circle cx="230.8" cy="173.8" r="1.4"/>
<rect x="41.0" y="4.5" width="248.4" height="240.8" fill="none" stroke="#222" stroke-width="1"/>
<text x="41.5" y="257.2" font-size="10.8" text-anchor="middle" textLength="15.6" lengthAdjust="spacingAndGlyphs" >0.6</text>
<text x="88.5" y="257.2" font-size="10.8" text-anchor="middle" textLength="15.6" lengthAdjust="spacingAndGlyphs" >0.7</text>
<text x="135.5" y="257.2" font-size="10.8" text-anchor="middle" textLength="15.6" lengthAdjust="spacingAndGlyphs" >0.8</text>
<text x="182.5" y="257.2" font-size="10.8" text-anchor="middle" textLength="15.6" lengthAdjust="spacingAndGlyphs" >0.9</text>
<text x="229.5" y="257.2" font-size="10.8" text-anchor="middle" textLength="15.6" lengthAdjust="spacingAndGlyphs" >1.0</text>
<text x="276.5" y="257.2" font-size="10.8" text-anchor="middle" textLength="15.6" lengthAdjust="spacingAndGlyphs" >1.1</text>
<text x="37.0" y="239.5" font-size="10.8" text-anchor="end" textLength="15.6" lengthAdjust="spacingAndGlyphs" >0.6</text>
<text x="37.0" y="202.5" font-size="10.8" text-anchor="end" textLength="15.6" lengthAdjust="spacingAndGlyphs" >0.8</text>
<text x="37.0" y="165.4" font-size="10.8" text-anchor="end" textLength="15.6" lengthAdjust="spacingAndGlyphs" >1.0</text>
<text x="37.0" y="128.3" font-size="10.8" text-anchor="end" textLength="15.6" lengthAdjust="spacingAndGlyphs" >1.2</text>
<text x="37.0" y="91.3" font-size="10.8" text-anchor="end" textLength="15.6" lengthAdjust="spacingAndGlyphs" >1.4</text>
<text x="37.0" y="54.2" font-size="10.8" text-anchor="end" textLength="15.6" lengthAdjust="spacingAndGlyphs" >1.6</text>
<text x="37.0" y="17.2" font-size="10.8" text-anchor="end" textLength="15.6" lengthAdjust="spacingAndGlyphs" >1.8</text>
<path d="M41.0 245.3L41.0 242.8M41.0 4.5L41.0 7.0M88.0 245.3L88.0 242.8M88.0 4.5L88.0 7.0M135.0 245.3L135.0 242.8M135.0 4.5L135.0 7.0M182.0 245.3L182.0 242.8M182.0 4.5L182.0 7.0M229.0 245.3L229.0 242.8M229.0 4.5L229.0 7.0M276.0 245.3L276.0 242.8M276.0 4.5L276.0 7.0M41.0 235.7L43.5 235.7M289.4 235.7L286.9 235.7M41.0 198.7L43.5 198.7M289.4 198.7L286.9 198.7M41.0 161.6L43.5 161.6M289.4 161.6L286.9 161.6M41.0 124.5L43.5 124.5M289.4 124.5L286.9 124.5M41.0 87.5L43.5 87.5M289.4 87.5L286.9 87.5M41.0 50.4L43.5 50.4M289.4 50.4L286.9 50.4M41.0 13.4L43.5 13.4M289.4 13.4L286.9 13.4M52.8 245.3L52.8 243.8M52.8 4.5L52.8 6.0M64.5 245.3L64.5 243.8M64.5 4.5L64.5 6.0M76.3 245.3L76.3 243.8M76.3 4.5L76.3 6.0M99.8 245.3L99.8 243.8M99.8 4.5L99.8 6.0M111.5 245.3L111.5 243.8M111.5 4.5L111.5 6.0M123.3 245.3L123.3 243.8M123.3 4.5L123.3 6.0M146.8 245.3L146.8 243.8M146.8 4.5L146.8 6.0M158.5 245.3L158.5 243.8M158.5 4.5L158.5 6.0M170.2 245.3L170.2 243.8M170.2 4.5L170.2 6.0M193.8 245.3L193.8 243.8M193.8 4.5L193.8 6.0M205.5 245.3L205.5 243.8M205.5 4.5L205.5 6.0M217.2 245.3L217.2 243.8M217.2 4.5L217.2 6.0M240.7 245.3L240.7 243.8M240.7 4.5L240.7 6.0M252.5 245.3L252.5 243.8M252.5 4.5L252.5 6.0M264.2 245.3L264.2 243.8M264.2 4.5L264.2 6.0M287.8 245.3L287.8 243.8M287.8 4.5L287.8 6.0M41.0 245.0L42.5 245.0M289.4 245.0L287.9 245.0M41.0 226.4L42.5 226.4M289.4 226.4L287.9 226.4M41.0 217.2L42.5 217.2M289.4 217.2L287.9 217.2M41.0 207.9L42.5 207.9M289.4 207.9L287.9 207.9M41.0 189.4L42.5 189.4M289.4 189.4L287.9 189.4M41.0 180.1L42.5 180.1M289.4 180.1L287.9 180.1M41.0 170.9L42.5 170.9M289.4 170.9L287.9 170.9M41.0 152.3L42.5 152.3M289.4 152.3L287.9 152.3M41.0 143.1L42.5 143.1M289.4 143.1L287.9 143.1M41.0 133.8L42.5 133.8M289.4 133.8L287.9 133.8M41.0 115.3L42.5 115.3M289.4 115.3L287.9 115.3M41.0 106.0L42.5 106.0M289.4 106.0L287.9 106.0M41.0 96.8L42.5 96.8M289.4 96.8L287.9 96.8M41.0 78.2L42.5 78.2M289.4 78.2L287.9 78.2M41.0 69.0L42.5 69.0M289.4 69.0L287.9 69.0M41.0 59.7L42.5 59.7M289.4 59.7L287.9 59.7M41.0 41.2L42.5 41.2M289.4 41.2L287.9 41.2M41.0 31.9L42.5 31.9M289.4 31.9L287.9 31.9M41.0 22.7L42.5 22.7M289.4 22.7L287.9 22.7" stroke="#222" stroke-width="0.7" fill="none"/>
<text x="165.8" y="271.8" font-size="12.8" text-anchor="middle" textLength="49.3" lengthAdjust="spacingAndGlyphs" >log R23</text>
<g transform="translate(10.5,124.6) rotate(-90)"><text x="0.0" y="0.0" font-size="12.9" text-anchor="middle" textLength="89.9" lengthAdjust="spacingAndGlyphs" >log [OIII]/[OII]</text></g>
<text x="59.1" y="108.0" font-size="10.3" textLength="15.2" lengthAdjust="spacingAndGlyphs" >7.3</text>
<text x="99.1" y="63.6" font-size="10.3" textLength="15.2" lengthAdjust="spacingAndGlyphs" >7.4</text>
<text x="136.7" y="42.0" font-size="10.3" textLength="15.2" lengthAdjust="spacingAndGlyphs" >7.5</text>
<text x="173.1" y="24.4" font-size="10.3" textLength="15.2" lengthAdjust="spacingAndGlyphs" >7.6</text>
<text x="205.3" y="14.0" font-size="10.3" textLength="15.2" lengthAdjust="spacingAndGlyphs" >7.7</text>
<text x="228.3" y="19.6" font-size="10.3" textLength="15.2" lengthAdjust="spacingAndGlyphs" >7.8</text>
<text x="250.3" y="25.0" font-size="10.3" textLength="15.2" lengthAdjust="spacingAndGlyphs" >7.9</text>
<text x="259.5" y="52.6" font-size="10.3" textLength="15.2" lengthAdjust="spacingAndGlyphs" >8.0</text>
<text x="263.5" y="88.0" font-size="10.3" textLength="15.2" lengthAdjust="spacingAndGlyphs" >8.1</text>
<text x="270.2" y="154.8" font-size="10.3" textLength="15.2" lengthAdjust="spacingAndGlyphs" >8.3</text>
<ellipse cx="49.8" cy="150.7" rx="16.7" ry="30.5" fill="#999" stroke="#7a9fdc" stroke-width="0.7"/>
<text x="38.0" y="148.8" font-size="8.0" textLength="12.6" lengthAdjust="spacingAndGlyphs" font-weight="bold" stroke="#000" stroke-width="0.22">Obj</text>
<text x="38.0" y="158.3" font-size="8.0" textLength="21.8" lengthAdjust="spacingAndGlyphs" font-weight="bold" stroke="#000" stroke-width="0.22">04590</text>
<ellipse cx="266.1" cy="119.7" rx="34.3" ry="21.7" fill="#999" stroke="#999" stroke-width="0.7"/>
<text x="254.2" y="117.8" font-size="8.0" textLength="12.8" lengthAdjust="spacingAndGlyphs" font-weight="bold" stroke="#000" stroke-width="0.22">Obj</text>
<text x="254.2" y="127.3" font-size="8.0" textLength="21.3" lengthAdjust="spacingAndGlyphs" font-weight="bold" stroke="#000" stroke-width="0.22">10612</text>
<ellipse cx="240.0" cy="183.2" rx="13.0" ry="10.4" fill="#999" stroke="#999" stroke-width="0.7"/>
<text x="231.8" y="180.8" font-size="8.0" textLength="13.2" lengthAdjust="spacingAndGlyphs" font-weight="bold" stroke="#000" stroke-width="0.22">Obj</text>
<text x="231.8" y="190.7" font-size="8.0" textLength="21.6" lengthAdjust="spacingAndGlyphs" font-weight="bold" stroke="#000" stroke-width="0.22">06355</text>
<rect x="304.5" y="225.33" width="12.2" height="20.38" fill="#0000ac"/>
<rect x="304.5" y="205.25" width="12.2" height="20.38" fill="#0000ff"/>
<rect x="304.5" y="185.18" width="12.2" height="20.38" fill="#0054ff"/>
<rect x="304.5" y="165.10" width="12.2" height="20.38" fill="#00a8ff"/>
<rect x="304.5" y="145.03" width="12.2" height="20.38" fill="#15ffe1"/>
<rect x="304.5" y="124.95" width="12.2" height="20.38" fill="#59ff9d"/>
<rect x="304.5" y="104.88" width="12.2" height="20.38" fill="#9dff59"/>
<rect x="304.5" y="84.80" width="12.2" height="20.38" fill="#e4ff12"/>
<rect x="304.5" y="64.73" width="12.2" height="20.38" fill="#ffbd00"/>
<rect x="304.5" y="44.65" width="12.2" height="20.38" fill="#ff6f00"/>
<rect x="304.5" y="24.58" width="12.2" height="20.38" fill="#ff1d00"/>
<rect x="304.5" y="4.50" width="12.2" height="20.38" fill="#ac0000"/>
<rect x="304.5" y="4.5" width="12.2" height="240.9" fill="none" stroke="#222" stroke-width="0.8"/>
<line x1="314.2" y1="245.4" x2="316.7" y2="245.4" stroke="#222" stroke-width="0.7"/>
<text x="319.6" y="248.2" font-size="8.6" textLength="13.0" lengthAdjust="spacingAndGlyphs" >7.2</text>
<line x1="314.2" y1="205.2" x2="316.7" y2="205.2" stroke="#222" stroke-width="0.7"/>
<text x="319.6" y="208.1" font-size="8.6" textLength="13.0" lengthAdjust="spacingAndGlyphs" >7.4</text>
<line x1="314.2" y1="165.1" x2="316.7" y2="165.1" stroke="#222" stroke-width="0.7"/>
<text x="319.6" y="167.9" font-size="8.6" textLength="13.0" lengthAdjust="spacingAndGlyphs" >7.6</text>
<line x1="314.2" y1="125.0" x2="316.7" y2="125.0" stroke="#222" stroke-width="0.7"/>
<text x="319.6" y="127.8" font-size="8.6" textLength="13.0" lengthAdjust="spacingAndGlyphs" >7.8</text>
<line x1="314.2" y1="84.8" x2="316.7" y2="84.8" stroke="#222" stroke-width="0.7"/>
<text x="319.6" y="87.6" font-size="8.6" textLength="13.0" lengthAdjust="spacingAndGlyphs" >8.0</text>
<line x1="314.2" y1="44.7" x2="316.7" y2="44.7" stroke="#222" stroke-width="0.7"/>
<text x="319.6" y="47.5" font-size="8.6" textLength="13.0" lengthAdjust="spacingAndGlyphs" >8.2</text>
<line x1="314.2" y1="4.5" x2="316.7" y2="4.5" stroke="#222" stroke-width="0.7"/>
<text x="319.6" y="7.3" font-size="8.6" textLength="13.0" lengthAdjust="spacingAndGlyphs" >8.4</text>
<g transform="translate(347.2,189.5) rotate(-90)"><text x="0.0" y="0.0" font-size="10.7" textLength="55.6" lengthAdjust="spacingAndGlyphs" >estimated</text><text x="58.9" y="0.0" font-size="10.7" textLength="70.4" lengthAdjust="spacingAndGlyphs" >12+log(O/H)</text></g>
</svg>
</body></html>
